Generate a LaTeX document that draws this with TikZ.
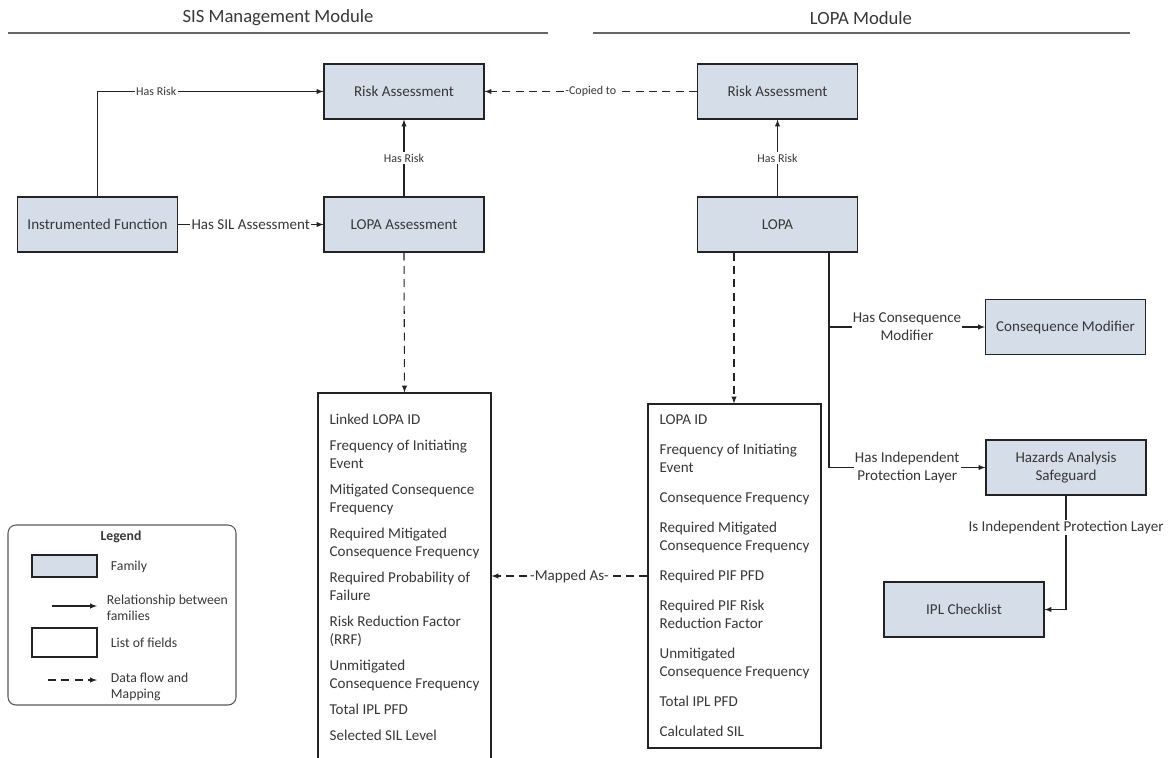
\documentclass[tikz,border=0pt]{standalone}
\usepackage{fontspec}
\setmainfont{Carlito}
\usepackage{xcolor}
\usepackage{tikz}
\usetikzlibrary{arrows}
\definecolor{famfill}{RGB}{213,222,232}
\definecolor{txtgray}{RGB}{55,55,55}
\definecolor{linegray}{RGB}{35,35,35}

\begin{document}
\begin{tikzpicture}[x=0.75pt,y=-0.75pt,line width=0.8pt,>=latex]
\tikzstyle{every node}+=[text=txtgray]
\tikzstyle{family}=[draw=linegray,fill=famfill,minimum width=120pt,minimum height=41.25pt,align=center,font=\fontsize{11.3}{14}\selectfont]
\tikzstyle{fields}=[draw=linegray,align=left,minimum width=129.75pt,font=\fontsize{11.3}{13.5}\selectfont]
\tikzstyle{lbl}=[fill=white,inner sep=1pt,align=center,font=\fontsize{11.3}{13.5}\selectfont]
\tikzstyle{tiny}=[fill=white,inner sep=1pt,font=\fontsize{9}{11}\selectfont]
\tikzstyle{flow}=[dash pattern=on 6pt off 4pt]
\tikzstyle{lg}=[anchor=west,align=left,font=\fontsize{10.3}{12}\selectfont]
\useasboundingbox (0,0) rectangle (1176,757);
\node (sish) at (278,18) {\fontsize{14}{16}\selectfont SIS Management Module};
\draw [gray!80!black] (8,33) -- (548,33);
\node (lopah) at (861,18) {\fontsize{14}{16}\selectfont LOPA Module};
\draw [gray!80!black] (593,33) -- (1130,33);
\node [family] (ra1) at (404,91.5) {Risk Assessment};
\node [family] (ra2) at (777.5,91.5) {Risk Assessment};
\node [family] (ifn) at (97.5,224.5) {Instrumented Function};
\node [family] (la) at (404,224.5) {LOPA Assessment};
\node [family] (lopa) at (777.5,224.5) {LOPA};
\node [family] (cm) at (1065.5,327) {Consequence Modifier};
\node [family] (hs) at (1066,467.5) {Hazards Analysis\\Safeguard};
\node [family] (ipl) at (964,609.5) {IPL Checklist};
\node [fields,minimum height=276pt] (lfl) at (404.5,577) {Linked LOPA ID\\[6pt]
Frequency of Initiating\\Event\\[6pt]
Mitigated Consequence\\Frequency\\[6pt]
Required Mitigated\\Consequence Frequency\\[6pt]
Required Probability of\\Failure\\[6pt]
Risk Reduction Factor\\(RRF)\\[6pt]
Unmitigated\\Consequence Frequency\\[6pt]
Total IPL PFD\\[6pt]
Selected SIL Level};
\node [fields,minimum height=258pt] (rfl) at (734.5,576) {LOPA ID\\[9pt]
Frequency of Initiating\\Event\\[9pt]
Consequence Frequency\\[9pt]
Required Mitigated\\Consequence Frequency\\[9pt]
Required PIF PFD\\[9pt]
Required PIF Risk\\Reduction Factor\\[9pt]
Unmitigated\\Consequence Frequency\\[9pt]
Total IPL PFD\\[9pt]
Calculated SIL};
\coordinate (ld) at (734,0);
\coordinate (tr) at (829,0);
\draw [linegray,->] (ifn.north) |- node [tiny,pos=0.63] {Has Risk} (ra1.west);
\draw [linegray,->] (ifn.east) -- node [lbl] {Has SIL Assessment} (la.west);
\draw [linegray,->] (la.north) -- node [tiny] {Has Risk} (ra1.south);
\draw [linegray,->] (lopa.north) -- node [tiny] {Has Risk} (ra2.south);
\draw [linegray,->,flow] (ra2.west) -- node [tiny] {-Copied to} (ra1.east);
\draw [linegray,->,flow] (la.south) -- (lfl.north);
\draw [linegray,->,flow] (ld |- lopa.south) -- (ld |- rfl.north);
\draw [linegray,->,flow] (rfl.west) -- node [lbl] {-Mapped As-} (lfl.east |- rfl.west);
\draw [linegray] (tr |- lopa.south) -- (tr |- hs.west);
\draw [linegray,->] (tr |- cm.west) -- node [lbl] {Has Consequence\\Modifier} (cm.west);
\draw [linegray,->] (tr |- hs.west) -- node [lbl] {Has Independent\\Protection Layer} (hs.west);
\draw [linegray,->] (hs.south) |- node [lbl,pos=0.14] {Is Independent Protection Layer} (ipl.east);
\draw [gray!70!black,rounded corners=6pt] (8,525) rectangle (236,705);
\node [font=\fontsize{10.3}{12}\selectfont\bfseries] (lgt) at (121,537) {Legend};
\node [draw=linegray,fill=famfill,minimum width=48.75pt,minimum height=16.5pt] (lgfam) at (64.5,566) {};
\node [lg] (lgfamt) at (106,567) {Family};
\coordinate (lgr1) at (52,606);
\coordinate (lgr2) at (97,606);
\draw [linegray,->] (lgr1) -- (lgr2);
\node [lg] (lgrelt) at (102,608) {Relationship between\\families};
\node [draw=linegray,minimum width=48.75pt,minimum height=21.75pt] (lgfld) at (64.5,642.5) {};
\node [lg] (lgfldt) at (106,643) {List of fields};
\coordinate (lgd1) at (48,680);
\coordinate (lgd2) at (97,680);
\draw [linegray,->,flow] (lgd1) -- (lgd2);
\node [lg] (lgdt) at (106,687) {Data flow and\\Mapping};
\end{tikzpicture}
\end{document}
